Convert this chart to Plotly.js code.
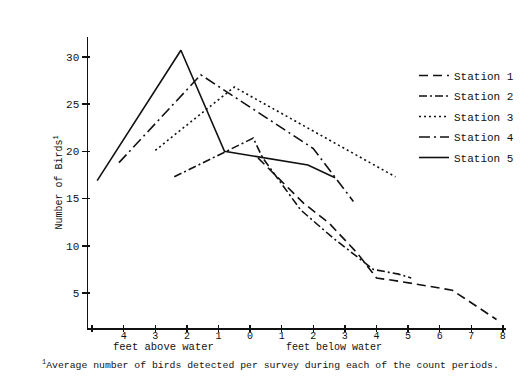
<!DOCTYPE html>
<html><head><meta charset="utf-8">
<script src="https://cdn.plot.ly/plotly-3.0.1.min.js"></script>
<style>body{margin:0;background:#fff}#c{width:529px;height:384px}</style>
</head><body><div id="c"></div>
<script>
// x: feet relative to water (negative = above water, positive = below water)
const st1x = [0.25, 0.8, 1.7, 2.5, 3.4, 4.0, 4.8, 6.4, 7.8];
const st1y = [19.3, 17.5, 14.5, 12.4, 9.2, 6.6, 6.2, 5.3, 2.2];
const st2x = [-2.4, 0.1, 0.4, 1.6, 2.6, 3.9, 4.7, 5.1];
const st2y = [17.3, 21.4, 19.3, 13.8, 10.9, 7.5, 7.0, 6.6];
const st3x = [-3.0, -0.5, 4.6];
const st3y = [20.1, 26.8, 17.3];
const st4x = [-4.15, -1.56, 2.0, 3.27];
const st4y = [18.8, 28.1, 20.3, 14.7];
const st5x = [-4.84, -2.19, -0.81, 1.83, 2.69];
const st5y = [16.9, 30.7, 20.0, 18.55, 17.2];
const names = ["Station 1", "Station 2", "Station 3", "Station 4", "Station 5"];
const xTickVals = [-5, -4, -3, -2, -1, 0, 1, 2, 3, 4, 5, 6, 7, 8];
const xTickText = ["", "4", "3", "2", "1", "0", "1", "2", "3", "4", "5", "6", "7", "8"];
const yTickVals = [5, 10, 15, 20, 25, 30];

const mono = "Liberation Mono, DejaVu Sans Mono, monospace";
const ink = "#111";
const xRange = [-5.13, 8.1], yRange = [1.3, 32.1];
const dashes = ["9px,5px", "8px,3px,2px,3px", "2px,3px", "11px,4px,2px,4px", "solid"];
const xs = [st1x, st2x, st3x, st4x, st5x];
const ys = [st1y, st2y, st3y, st4y, st5y];
const traces = names.map((n, i) => ({
  type: "scatter", mode: "lines", name: n, x: xs[i], y: ys[i], legendgroup: "g" + i,
  line: {color: ink, width: 1.6, dash: dashes[i]}
}));

const baseAxis = {showgrid: false, zeroline: false, tickwidth: 1.5, tickcolor: ink, ticklen: 3};
const layout = {
  width: 529, height: 384,
  margin: {l: 88, r: 23, t: 37, b: 56, autoexpand: false},
  paper_bgcolor: "#fff", plot_bgcolor: "#fff",
  font: {family: mono, color: ink, size: 11},
  showlegend: true,
  legend: {x: (414-88)/418, y: (328-61)/291, xanchor: "left", yanchor: "top",
           font: {family: mono, size: 11, color: ink}, bgcolor: "rgba(0,0,0,0)",
           tracegroupgap: 1.5, itemwidth: 30},
  xaxis: Object.assign({}, baseAxis, {range: xRange, tickvals: xTickVals, ticktext: xTickText,
          showline: true, linecolor: ink, linewidth: 1.5, ticks: "inside", ticklabelstandoff: -3,
          tickfont: {family: mono, size: 10, color: ink}}),
  yaxis: Object.assign({}, baseAxis, {range: yRange, tickvals: yTickVals,
          showline: true, linecolor: ink, linewidth: 1.5, ticks: "outside", ticklen: 5,
          tickfont: {family: mono, size: 11, color: ink}}),
  xaxis2: Object.assign({}, baseAxis, {range: xRange, tickvals: xTickVals, overlaying: "x",
          showticklabels: false, showline: false, ticks: "outside", side: "bottom", anchor: "y"}),
  yaxis2: Object.assign({}, baseAxis, {range: yRange, tickvals: yTickVals, overlaying: "y",
          showticklabels: false, showline: false, ticks: "inside", ticklen: 2, side: "left", anchor: "x"}),
  annotations: [
    {text: "feet above water", xref: "paper", yref: "paper", x: (163-88)/418, y: -(347-328)/291,
     xanchor: "center", yanchor: "middle",
     showarrow: false, font: {family: mono, size: 10.5, color: ink}},
    {text: "feet below water", xref: "paper", yref: "paper", x: (334-88)/418, y: -(347-328)/291,
     xanchor: "center", yanchor: "middle",
     showarrow: false, font: {family: mono, size: 10, color: ink}},
    {text: "Number of Birds<sup>1</sup>", xref: "paper", yref: "paper", x: (58-88)/418, y: 0.5,
     xanchor: "center", yanchor: "middle",
     textangle: -90, showarrow: false, font: {family: mono, size: 10, color: ink}},
    {text: "<sup>1</sup>Average number of birds detected per survey during each of the count periods.",
     xref: "paper", yref: "paper", x: (40-88)/418, xanchor: "left", y: -(364-328)/291, yanchor: "middle",
     showarrow: false, font: {family: mono, size: 9.8, color: ink}}
  ]
};
traces.push({type: "scatter", x: [], y: [], xaxis: "x2", yaxis: "y2", showlegend: false, hoverinfo: "skip"});
Plotly.newPlot("c", traces, layout, {staticPlot: true, displayModeBar: false});
</script></body></html>
